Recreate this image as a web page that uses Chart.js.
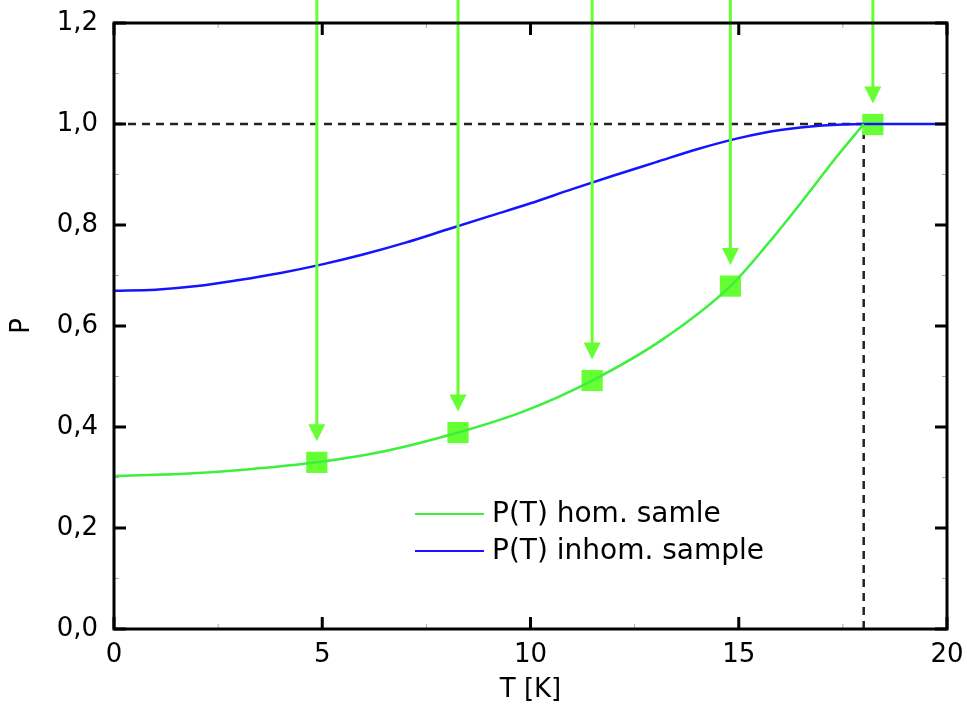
<!DOCTYPE html>
<html lang="en">
<head>
    <meta charset="UTF-8">
    <title>P(T)</title>
    <script src="https://cdn.jsdelivr.net/npm/chart.js"></script>
    <style>
        body {
            margin: 0;
            padding: 0;
            background: #fff;
        }
        .chart-box {
            width: 967px;
            height: 711px;
        }
    </style>
</head>
<body>
    <div class="chart-box">
        <canvas id="pChart"></canvas>
    </div>
    <script>
        // homogeneous sample curve
        const homT = [0, 1.8, 3.2, 4.87, 6.55, 8.26, 9.87, 11.48, 13.2, 14.8, 15.75, 16.55, 17.35, 18];
        const homP = [0.303, 0.308, 0.316, 0.330, 0.353, 0.389, 0.432, 0.492, 0.575, 0.679, 0.768, 0.850, 0.935, 1.0];

        // inhomogeneous sample curve
        const inhomT = [0, 1, 2, 3, 4, 5, 6, 7, 8, 9, 10, 11, 12, 13, 14, 15, 16, 17, 18, 19, 20];
        const inhomP = [0.670, 0.672, 0.679, 0.691, 0.705, 0.722, 0.742, 0.765, 0.791, 0.817, 0.843, 0.871, 0.898, 0.924, 0.950, 0.972, 0.988, 0.997, 1.0, 1.0, 1.0];

        // square markers (arrows point at them)
        const markT = [4.87, 8.26, 11.48, 14.8, 18.22];
        const markP = [0.330, 0.389, 0.492, 0.679, 0.999];

        // dashed reference lines
        const refT = 18;
        const refP = 1.0;

        const xTicks = [0, 5, 10, 15, 20];
        const yTicks = [0, 0.2, 0.4, 0.6, 0.8, 1.0, 1.2];

        const seriesLabels = ['P(T) hom. samle', 'P(T) inhom. sample'];

        const GREEN = '#3cf03c';
        const MARK = '#66ff33';
        const BLUE = '#1414ff';
        const FONT = "'DejaVu Sans', Arial, sans-serif";

        function toXY(xs, ys) {
            return xs.map((x, i) => ({ x: x, y: ys[i] }));
        }

        const framePlugin = {
            id: 'framePlugin',
            beforeDatasetsDraw(chart) {
                const ctx = chart.ctx;
                const xs = chart.scales.x;
                const ys = chart.scales.y;
                ctx.save();
                ctx.strokeStyle = '#222';
                ctx.lineWidth = 2.5;
                ctx.setLineDash([8, 6]);
                ctx.beginPath();
                ctx.moveTo(xs.getPixelForValue(0), ys.getPixelForValue(refP));
                ctx.lineTo(xs.getPixelForValue(refT), ys.getPixelForValue(refP));
                ctx.moveTo(xs.getPixelForValue(refT), ys.getPixelForValue(0));
                ctx.lineTo(xs.getPixelForValue(refT), ys.getPixelForValue(refP));
                ctx.stroke();
                ctx.restore();
            },
            afterDatasetsDraw(chart) {
                const ctx = chart.ctx;
                const a = chart.chartArea;
                const xs = chart.scales.x;
                const ys = chart.scales.y;
                ctx.save();

                // arrows
                ctx.strokeStyle = MARK;
                ctx.fillStyle = MARK;
                ctx.lineWidth = 3;
                markT.forEach((t, i) => {
                    const px = xs.getPixelForValue(t);
                    const tip = ys.getPixelForValue(markP[i]) - 21;
                    ctx.beginPath();
                    ctx.moveTo(px, -5);
                    ctx.lineTo(px, tip - 14);
                    ctx.stroke();
                    ctx.beginPath();
                    ctx.moveTo(px - 8.5, tip - 17);
                    ctx.lineTo(px + 8.5, tip - 17);
                    ctx.lineTo(px, tip);
                    ctx.closePath();
                    ctx.fill();
                });

                // minor ticks
                ctx.strokeStyle = '#aaa';
                ctx.lineWidth = 1;
                ctx.beginPath();
                for (let i = 0; i < xTicks.length - 1; i++) {
                    const px = xs.getPixelForValue((xTicks[i] + xTicks[i + 1]) / 2);
                    ctx.moveTo(px, a.bottom); ctx.lineTo(px, a.bottom - 5);
                    ctx.moveTo(px, a.top); ctx.lineTo(px, a.top + 5);
                }
                for (let i = 0; i < yTicks.length - 1; i++) {
                    const py = ys.getPixelForValue((yTicks[i] + yTicks[i + 1]) / 2);
                    ctx.moveTo(a.left, py); ctx.lineTo(a.left + 5, py);
                    ctx.moveTo(a.right, py); ctx.lineTo(a.right - 5, py);
                }
                ctx.stroke();

                // major ticks
                ctx.strokeStyle = '#000';
                ctx.lineWidth = 3;
                ctx.beginPath();
                xTicks.forEach(v => {
                    const px = xs.getPixelForValue(v);
                    ctx.moveTo(px, a.bottom); ctx.lineTo(px, a.bottom - 12);
                    ctx.moveTo(px, a.top); ctx.lineTo(px, a.top + 12);
                });
                yTicks.forEach(v => {
                    const py = ys.getPixelForValue(v);
                    ctx.moveTo(a.left, py); ctx.lineTo(a.left + 12, py);
                    ctx.moveTo(a.right, py); ctx.lineTo(a.right - 12, py);
                });
                ctx.stroke();

                // frame
                ctx.lineWidth = 3;
                ctx.strokeRect(a.left, a.top, a.right - a.left, a.bottom - a.top);

                // legend
                const colors = [GREEN, BLUE];
                const rows = [514, 551];
                ctx.font = '28px ' + FONT;
                ctx.textBaseline = 'middle';
                ctx.fillStyle = '#000';
                seriesLabels.forEach((lab, i) => {
                    ctx.strokeStyle = colors[i];
                    ctx.lineWidth = 2;
                    ctx.beginPath();
                    ctx.moveTo(415, rows[i]);
                    ctx.lineTo(484, rows[i]);
                    ctx.stroke();
                    ctx.fillText(lab, 492, rows[i] + 1);
                });
                ctx.restore();
            }
        };

        document.addEventListener('DOMContentLoaded', () => {
            const ctx = document.getElementById('pChart').getContext('2d');
            new Chart(ctx, {
                type: 'line',
                data: {
                    datasets: [
                        {
                            label: seriesLabels[0],
                            data: toXY(homT, homP),
                            borderColor: GREEN,
                            borderWidth: 2.5,
                            pointRadius: 0,
                            cubicInterpolationMode: 'monotone',
                            fill: false
                        },
                        {
                            label: seriesLabels[1],
                            data: toXY(inhomT, inhomP),
                            borderColor: BLUE,
                            borderWidth: 2.5,
                            pointRadius: 0,
                            cubicInterpolationMode: 'monotone',
                            fill: false
                        },
                        {
                            label: 'markers',
                            data: toXY(markT, markP),
                            showLine: false,
                            pointStyle: 'rect',
                            pointRadius: 15,
                            pointBackgroundColor: MARK,
                            pointBorderWidth: 0,
                            borderColor: MARK
                        }
                    ]
                },
                options: {
                    responsive: true,
                    maintainAspectRatio: false,
                    animation: false,
                    clip: false,
                    layout: {
                        padding: { top: 23, right: 20, bottom: 0, left: 0 }
                    },
                    plugins: {
                        legend: { display: false },
                        tooltip: { enabled: false }
                    },
                    scales: {
                        x: {
                            type: 'linear',
                            min: 0,
                            max: 20,
                            grid: { display: false, drawTicks: false },
                            border: { display: false },
                            afterBuildTicks: s => { s.ticks = xTicks.map(v => ({ value: v })); },
                            afterFit: s => {
                                s.height = 82;
                                s.paddingLeft = 0; s.paddingRight = 0;
                            },
                            ticks: {
                                padding: 11,
                                color: '#000',
                                font: { family: FONT, size: 26 },
                                maxRotation: 0,
                                callback: v => String(v)
                            },
                            title: {
                                display: true,
                                text: 'T [K]',
                                color: '#000',
                                font: { family: FONT, size: 26 },
                                padding: { top: 0, bottom: 5 }
                            }
                        },
                        y: {
                            type: 'linear',
                            min: 0,
                            max: 1.2,
                            grid: { display: false, drawTicks: false },
                            border: { display: false },
                            afterBuildTicks: s => { s.ticks = yTicks.map(v => ({ value: v })); },
                            afterFit: s => {
                                s.width = 114;
                                s.paddingTop = 0; s.paddingBottom = 0;
                            },
                            ticks: {
                                padding: 16,
                                color: '#000',
                                font: { family: FONT, size: 26 },
                                callback: v => v.toFixed(1).replace('.', ',')
                            },
                            title: {
                                display: true,
                                text: 'P',
                                color: '#000',
                                font: { family: FONT, size: 26 },
                                padding: { top: 7, bottom: 0 }
                            }
                        }
                    }
                },
                plugins: [framePlugin]
            });
        });
    </script>
</body>
</html>
